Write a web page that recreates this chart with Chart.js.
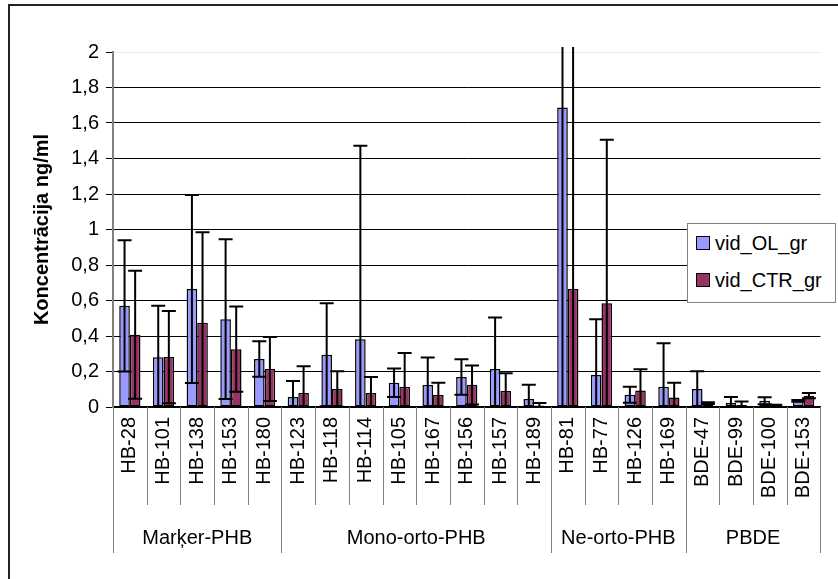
<!DOCTYPE html>
<html>
<head>
<meta charset="utf-8">
<script src="https://cdn.jsdelivr.net/npm/chart.js@4.4.0/dist/chart.umd.min.js"></script>
<style>
  html, body { margin: 0; padding: 0; background: #fff; }
  #wrap { position: relative; width: 838px; height: 579px; }
  #legend {
    position: absolute; left: 687px; top: 223px; width: 149px; height: 80px;
    box-sizing: border-box; border: 1px solid #808080; background: #fff;
    font: 20px "Liberation Sans", Arial, sans-serif; color: #000;
  }
  .item { position: absolute; left: 8px; display: flex; align-items: center; line-height: 20px; }
  .sw { width: 12px; height: 12px; border: 1.5px solid #000; margin-right: 5px; }
</style>
</head>
<body>
<div id="wrap">
  <canvas id="myChart" width="838" height="579"></canvas>
  <div id="legend"></div>
</div>
<script>
const categories = [
  "HB-28", "HB-101", "HB-138", "HB-153", "HB-180",
  "HB-123", "HB-118", "HB-114", "HB-105", "HB-167", "HB-156", "HB-157", "HB-189",
  "HB-81", "HB-77", "HB-126", "HB-169",
  "BDE-47", "BDE-99", "BDE-100", "BDE-153"
];
const groups = ["Marķer-PHB", "Mono-orto-PHB", "Ne-orto-PHB", "PBDE"];
const groupSizes = [5, 8, 4, 4];
const seriesNames = ["vid_OL_gr", "vid_CTR_gr"];
const seriesColors = ["#9999ff", "#993366"];

const olValues = [0.57, 0.28, 0.665, 0.495, 0.27, 0.056, 0.294, 0.382, 0.137, 0.124, 0.169, 0.214, 0.045,
  1.687, 0.18, 0.069, 0.114, 0.101, 0.022, 0.035, 0.035];
const olErrors = [0.37, 0.29, 0.53, 0.45, 0.10, 0.09, 0.29, 1.09, 0.08, 0.155, 0.10, 0.29, 0.08,
  1.9, 0.315, 0.045, 0.245, 0.10, 0.034, 0.02, 0.005];
const ctrValues = [0.407, 0.281, 0.474, 0.326, 0.214, 0.079, 0.101, 0.079, 0.114, 0.067, 0.124, 0.09, 0.008,
  0.665, 0.585, 0.093, 0.054, 0.022, 0.011, 0.008, 0.064];
const ctrErrors = [0.36, 0.26, 0.51, 0.24, 0.18, 0.15, 0.10, 0.09, 0.19, 0.07, 0.11, 0.10, 0.014,
  1.6, 0.92, 0.12, 0.083, 0.005, 0.02, 0.005, 0.015];

const yTicks = [0, 0.2, 0.4, 0.6, 0.8, 1, 1.2, 1.4, 1.6, 1.8, 2];

const fontFamily = '"Liberation Sans", Arial, sans-serif';

// legend (html, from series names)
const legend = document.getElementById("legend");
seriesNames.forEach((name, i) => {
  legend.innerHTML += `<div class="item" style="top:${9 + i * 37}px"><div class="sw" style="background:${seriesColors[i]}"></div>${name}</div>`;
});

const errorBars = {
  id: "errorBars",
  afterDatasetsDraw(chart) {
    const ctx = chart.ctx;
    const y = chart.scales.y;
    const area = chart.chartArea;
    const errs = [olErrors, ctrErrors];
    ctx.save();
    ctx.strokeStyle = "#000";
    ctx.lineWidth = 2;
    chart.data.datasets.forEach((ds, d) => {
      const meta = chart.getDatasetMeta(d);
      meta.data.forEach((bar, j) => {
        const v = ds.data[j], e = errs[d][j];
        const hi = v + e, lo = v - e;
        let yHi = y.getPixelForValue(hi);
        const clipped = yHi < area.top - 5;
        if (clipped) yHi = area.top - 5;
        const yLo = y.getPixelForValue(Math.max(0, lo));
        ctx.beginPath();
        ctx.moveTo(bar.x, yHi);
        ctx.lineTo(bar.x, yLo);
        if (!clipped) {
          ctx.moveTo(bar.x - 7, yHi);
          ctx.lineTo(bar.x + 7, yHi);
        }
        if (lo >= 0) {
          ctx.moveTo(bar.x - 7, yLo);
          ctx.lineTo(bar.x + 7, yLo);
        }
        ctx.stroke();
      });
    });
    ctx.restore();
  }
};

const groupAxis = {
  id: "groupAxis",
  afterDraw(chart) {
    const ctx = chart.ctx;
    const xs = chart.scales.x;
    const area = chart.chartArea;
    const w = (xs.right - xs.left) / categories.length;
    const bounds = [0];
    groupSizes.forEach(n => bounds.push(bounds[bounds.length - 1] + n));
    ctx.save();
    ctx.strokeStyle = "#808080";
    ctx.lineWidth = 1;
    for (let i = 0; i <= categories.length; i++) {
      const x = Math.round(xs.left + i * w) + 0.5;
      ctx.beginPath();
      ctx.moveTo(x, area.bottom);
      ctx.lineTo(x, area.bottom + (bounds.includes(i) ? 146 : 98));
      ctx.stroke();
    }
    ctx.fillStyle = "#000";
    ctx.font = "20px " + fontFamily;
    ctx.textAlign = "center";
    ctx.textBaseline = "middle";
    groups.forEach((g, k) => {
      const cx = xs.left + (bounds[k] + bounds[k + 1]) / 2 * w;
      ctx.fillText(g, cx, area.bottom + 131);
    });
    // outer frame
    ctx.strokeStyle = "#222";
    ctx.lineWidth = 2;
    ctx.strokeRect(9, 5, 840, 590);
    ctx.restore();
  }
};

new Chart(document.getElementById("myChart"), {
  type: "bar",
  data: {
    labels: categories,
    datasets: [
      { label: seriesNames[0], data: olValues, backgroundColor: seriesColors[0] },
      { label: seriesNames[1], data: ctrValues, backgroundColor: seriesColors[1] }
    ]
  },
  options: {
    responsive: false,
    animation: false,
    layout: { padding: { left: 10, top: 52, right: 16, bottom: 0 } },
    datasets: {
      bar: {
        categoryPercentage: 0.63,
        barPercentage: 1,
        borderColor: "#000",
        borderWidth: 1.5,
        borderSkipped: false
      }
    },
    plugins: { legend: { display: false }, tooltip: { enabled: false } },
    scales: {
      x: {
        grid: { display: false, drawTicks: false },
        border: { display: true, color: "#000", width: 1.5 },
        ticks: {
          autoSkip: false, minRotation: 90, maxRotation: 90, padding: 10,
          color: "#000", font: { family: fontFamily, size: 20 }
        },
        afterFit: s => { s.height = 172; }
      },
      y: {
        min: 0, max: 2,
        afterBuildTicks: s => { s.ticks = yTicks.map(v => ({ value: v })); },
        ticks: {
          padding: 7, color: "#000", font: { family: fontFamily, size: 20 },
          callback: v => String(v).replace(".", ",")
        },
        grid: {
          color: c => (c.tick && c.tick.value === 2 ? "#ececec" : "#000"),
          tickColor: "#000", tickLength: 7, lineWidth: 1
        },
        border: { color: "#808080", width: 2 },
        title: {
          display: true, text: "Koncentrācija ng/ml", color: "#000",
          font: { family: fontFamily, size: 20, weight: "bold" },
          padding: { top: 20, bottom: 0 }
        },
        afterFit: s => { s.width = 103; }
      }
    }
  },
  plugins: [errorBars, groupAxis]
});
</script>
</body>
</html>
